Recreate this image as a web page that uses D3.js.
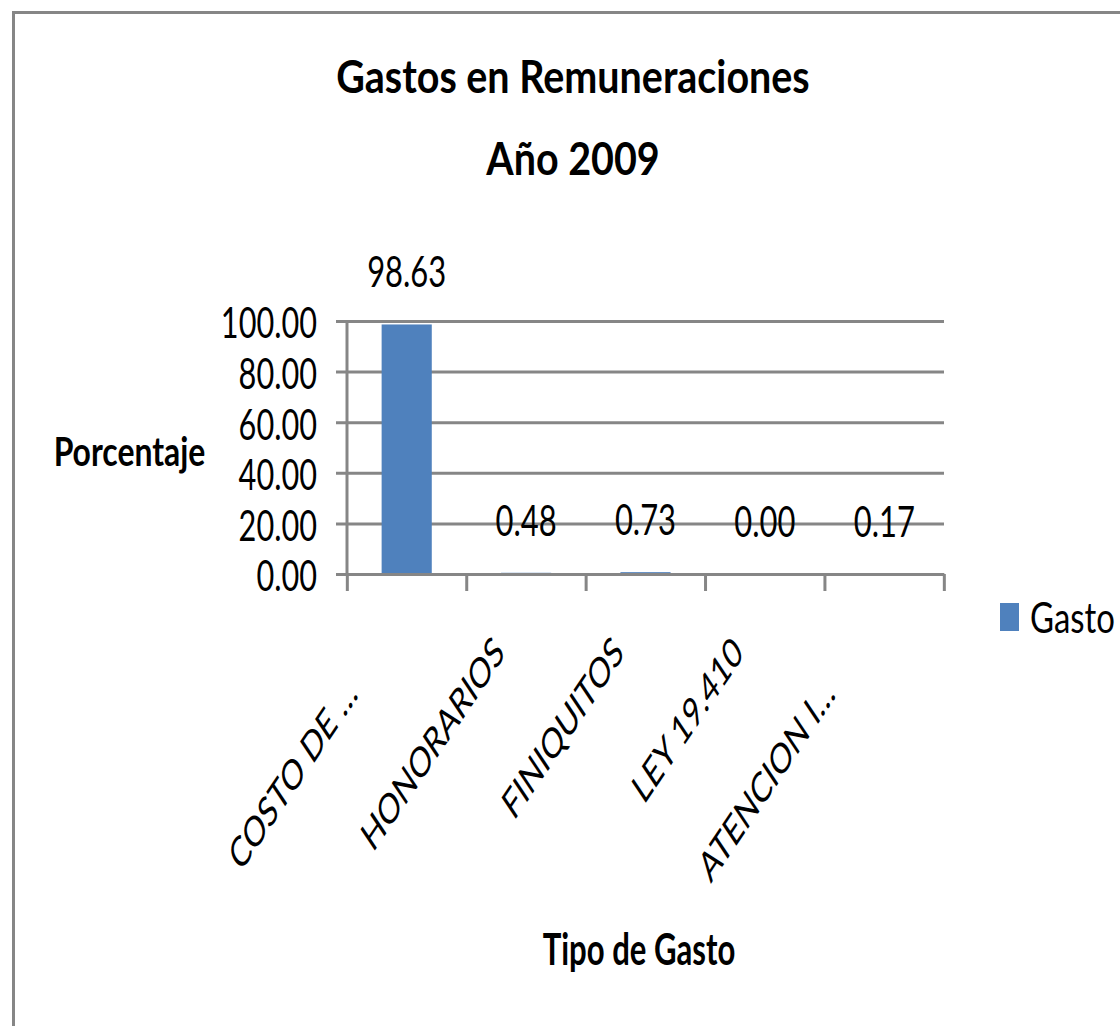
<!DOCTYPE html>
<html>
<head>
<meta charset="utf-8">
<script src="https://cdn.jsdelivr.net/npm/d3@7"></script>
<style>
  body { margin: 0; background: #fff; }
  svg text { font-family: Lato, "Open Sans", sans-serif; fill: #000; }
  .grid line, .xAxis line, .xAxis path { stroke: #868686; stroke-width: 3; vector-effect: non-scaling-stroke; }
</style>
</head>
<body>
<div id="chart"></div>
<script>
// data
const categories = ["COSTO DE …", "HONORARIOS", "FINIQUITOS", "LEY 19.410", "ATENCION I…"];
const values = [98.63, 0.48, 0.73, 0.00, 0.17];
const yTicks = [0, 20, 40, 60, 80, 100];
const seriesName = "Gasto";
const titleLines = ["Gastos en Remuneraciones", "Año 2009"];

const W = 1120, H = 1026;
// picture is squeezed horizontally, draw in wide space then scale x
const SX = 0.67;
const vx = px => px / SX;

const plot = { left: vx(347), right: vx(944), top: 321, bottom: 574 };
const plotW = plot.right - plot.left;

// widen a text horizontally around its x
function stretch(sel, k) {
  sel.attr("transform", function() {
    var xx = +this.getAttribute("x") || 0;
    var prev = this.getAttribute("transform") || "";
    return prev + " translate(" + xx + ",0) scale(" + k + ",1) translate(" + (-xx) + ",0)";
  });
}

const svg = d3.select("#chart").append("svg")
  .attr("width", W).attr("height", H);

// frame (only left and top edges visible)
svg.append("path")
  .attr("d", "M13.5," + (H + 5) + " V12.5 H" + (W + 5))
  .attr("fill", "none").attr("stroke", "#868686").attr("stroke-width", 3);

const g = svg.append("g").attr("transform", "scale(" + SX + ",1)");

const x = d3.scaleBand()
  .domain(categories)
  .range([plot.left, plot.right])
  .paddingInner(0.58)
  .paddingOuter(0.29);
const xEdge = d3.scaleLinear().domain([0, categories.length]).range([plot.left, plot.right]);
const y = d3.scaleLinear().domain([0, 100]).range([plot.bottom, plot.top]);

// gridlines + y ticks + labels in one axis
const yAxis = d3.axisLeft(y)
  .tickValues(yTicks)
  .tickFormat(d3.format(".2f"))
  .tickSize(plotW + vx(11))
  .tickPadding(vx(19));
const gy = g.append("g").attr("class", "grid")
  .attr("transform", "translate(" + plot.right + ",0)")
  .call(yAxis);
gy.select(".domain").remove();
gy.selectAll("text")
  .attr("font-size", 42)
  .attr("dy", "0.4em")
  .call(stretch, 1.09);

// bars
g.selectAll(".bar")
  .data(values).enter()
  .append("rect")
  .attr("class", "bar")
  .attr("x", (d, i) => x(categories[i]))
  .attr("width", x.bandwidth())
  .attr("y", d => y(d))
  .attr("height", d => y(0) - y(d))
  .attr("fill", "#4F81BD");

// vertical axis line
g.append("g").attr("class", "grid")
  .append("line")
  .attr("x1", plot.left).attr("x2", plot.left)
  .attr("y1", plot.top).attr("y2", plot.bottom);

// x axis with ticks between categories
g.append("g").attr("class", "xAxis")
  .attr("transform", "translate(0," + plot.bottom + ")")
  .call(d3.axisBottom(xEdge)
    .tickValues(d3.range(categories.length + 1))
    .tickFormat("")
    .tickSize(17)
    .tickSizeOuter(0));

// value labels
g.selectAll(".val")
  .data(values).enter()
  .append("text")
  .attr("class", "val")
  .attr("x", (d, i) => x(categories[i]) + x.bandwidth() / 2)
  .attr("y", d => y(d) - 37)
  .attr("text-anchor", "middle")
  .attr("font-size", 42)
  .text(d => d3.format(".2f")(d))
  .call(stretch, 1.1);

// rotated category labels
g.selectAll(".cat")
  .data(categories).enter()
  .append("text")
  .attr("class", "cat")
  .attr("text-anchor", "end")
  .attr("font-size", 42)
  .attr("transform", d => "translate(" + (x(d) + x.bandwidth() / 2 - 30) + "," + (plot.bottom + 81) + ") rotate(-45)")
  .attr("dx", d => d.endsWith("…") ? -58 : 0)
  .text(d => d);

// titles
g.selectAll(".title")
  .data(titleLines).enter()
  .append("text")
  .attr("class", "title")
  .attr("x", vx(573))
  .attr("y", (d, i) => 93 + i * 82)
  .attr("text-anchor", "middle")
  .attr("font-size", 46)
  .attr("font-weight", "bold")
  .text(d => d)
  .call(stretch, 1.28);

g.append("text")
  .attr("x", vx(129.5)).attr("y", 466)
  .attr("text-anchor", "middle")
  .attr("font-size", 40)
  .attr("font-weight", "bold")
  .text("Porcentaje")
  .call(stretch, 1.19);

g.append("text")
  .attr("x", vx(639)).attr("y", 965)
  .attr("text-anchor", "middle")
  .attr("font-size", 43)
  .attr("font-weight", "bold")
  .text("Tipo de Gasto")
  .call(stretch, 1.08);

// legend
const lg = g.append("g").attr("transform", "translate(" + vx(1000) + ",603)");
lg.append("rect").attr("width", vx(19)).attr("height", 28).attr("fill", "#4F81BD");
lg.append("text").attr("x", vx(30)).attr("y", 30).attr("font-size", 42)
  .text(seriesName)
  .call(stretch, 1.17);
</script>
</body>
</html>
